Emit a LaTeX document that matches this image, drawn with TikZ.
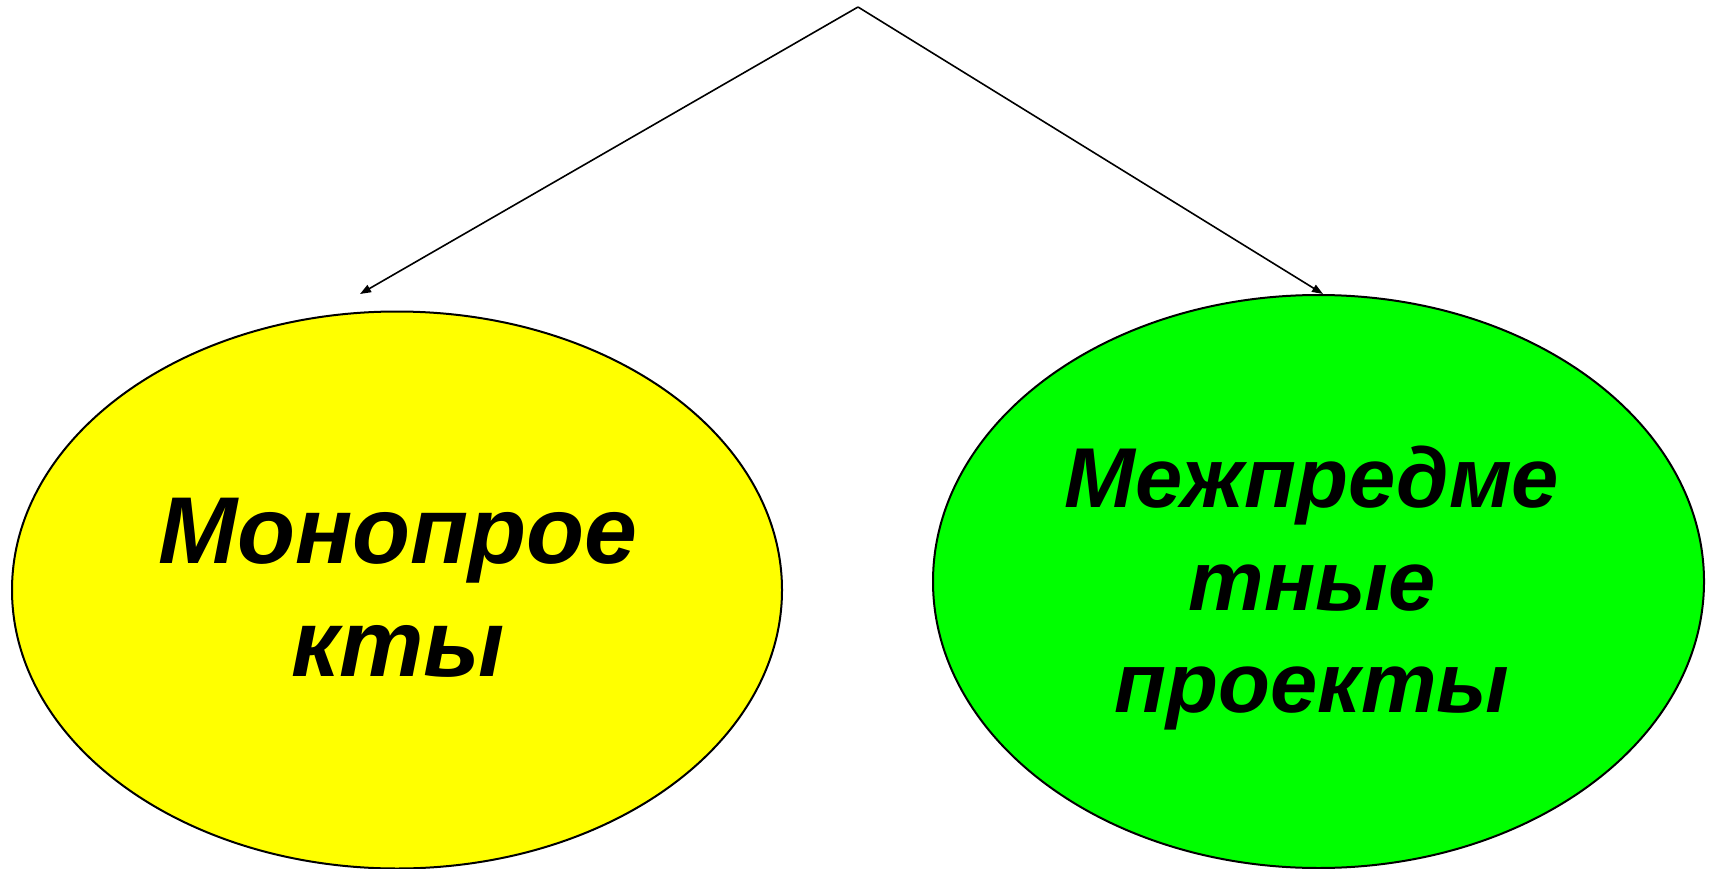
\documentclass[tikz,border=0pt]{standalone}
\usepackage{fontspec}
\setmainfont{Liberation Sans}
\usetikzlibrary{arrows.meta,shapes.geometric}
\definecolor{yel}{HTML}{FFFF00}
\definecolor{grn}{HTML}{00FF00}
\begin{document}
\begin{tikzpicture}[x=1pt,y=-1pt,
  oval/.style={ellipse,draw=black,line width=2pt,inner sep=0pt,outer sep=0pt},
  lbl/.style={align=center,inner sep=0pt,font=\bfseries\itshape},
  conn/.style={line width=1.6pt,-{Triangle[length=11pt,width=8pt]}}]
\useasboundingbox (0,0) rectangle (1712,869);
\node[oval,fill=yel,minimum width=770pt,minimum height=557pt] (mono) at (397,590) {};
\node[oval,fill=grn,minimum width=771pt,minimum height=573pt] (mezh) at (1318.5,581.5) {};
\node[lbl,font=\fontsize{95}{113}\selectfont\bfseries\itshape] (monot) at (398,587.5) {Монопрое\\кты};
\node[lbl,font=\fontsize{85}{102.5}\selectfont\bfseries\itshape] (mezht) at (1312,588.5) {Межпредме\\тные\\проекты};
\coordinate (apex) at (858,7);
\coordinate (ltip) at (360,294);
\coordinate (rtip) at (1323,294);
\draw[conn] (apex) -- (ltip);
\draw[conn] (apex) -- (rtip);
\end{tikzpicture}
\end{document}
